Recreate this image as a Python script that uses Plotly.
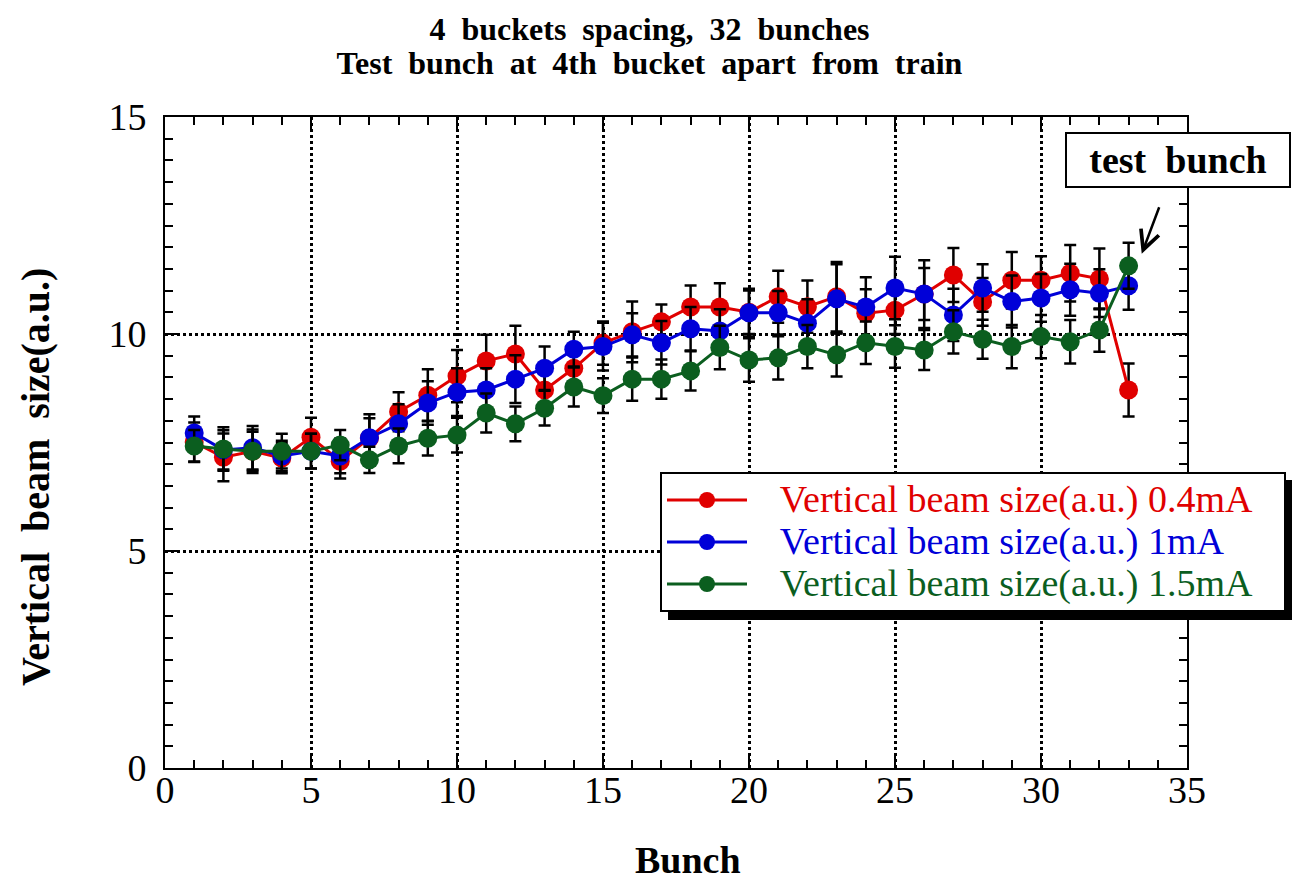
import plotly.graph_objects as go

# Bunch index along the train (33 = test bunch)
bunch = list(range(1, 34))

# Vertical beam size (a.u.) per bunch for each beam current
size_04mA = [7.51, 7.16, 7.30, 7.14, 7.62, 7.07, 7.60, 8.21, 8.59, 9.03, 9.38,
             9.54, 8.71, 9.21, 9.79, 10.05, 10.28, 10.62, 10.62, 10.50, 10.86,
             10.63, 10.86, 10.48, 10.55, 10.92, 11.36, 10.74, 11.24, 11.24,
             11.40, 11.27, 8.71]
size_1mA = [7.72, 7.33, 7.38, 7.19, 7.30, 7.19, 7.61, 7.93, 8.41, 8.66, 8.71,
            8.96, 9.21, 9.65, 9.71, 9.98, 9.80, 10.12, 10.07, 10.49, 10.49,
            10.25, 10.81, 10.62, 11.06, 10.92, 10.44, 11.06, 10.75, 10.83,
            11.02, 10.94, 11.11]
size_15mA = [7.42, 7.35, 7.30, 7.30, 7.30, 7.44, 7.10, 7.42, 7.60, 7.67, 8.18,
             7.93, 8.29, 8.78, 8.58, 8.96, 8.96, 9.15, 9.69, 9.40, 9.45, 9.71,
             9.52, 9.80, 9.71, 9.63, 10.05, 9.88, 9.71, 9.94, 9.82, 10.09, 11.57]

# Symmetric measurement errors
err_04mA = [0.45, 0.55, 0.50, 0.35, 0.45, 0.40, 0.55, 0.45, 0.60, 0.60, 0.60,
            0.65, 0.45, 0.40, 0.50, 0.70, 0.40, 0.50, 0.55, 0.50, 0.60, 0.60,
            0.80, 0.55, 0.55, 0.60, 0.62, 0.55, 0.65, 0.55, 0.65, 0.70, 0.61]
err_1mA = [0.38, 0.45, 0.50, 0.35, 0.40, 0.40, 0.45, 0.45, 0.50, 0.55, 0.50,
           0.55, 0.50, 0.40, 0.55, 0.50, 0.50, 0.50, 0.50, 0.55, 0.50, 0.55,
           0.80, 0.69, 0.72, 0.78, 0.60, 0.55, 0.60, 0.55, 0.60, 0.55, 0.55]
err_15mA = [0.37, 0.50, 0.45, 0.40, 0.40, 0.35, 0.30, 0.40, 0.40, 0.40, 0.45,
            0.40, 0.40, 0.45, 0.40, 0.50, 0.45, 0.45, 0.50, 0.50, 0.50, 0.50,
            0.50, 0.49, 0.49, 0.46, 0.50, 0.45, 0.50, 0.50, 0.50, 0.50, 0.53]

series_names = ["Vertical beam size(a.u.) 0.4mA",
                "Vertical beam size(a.u.) 1mA",
                "Vertical beam size(a.u.) 1.5mA"]
series_colors = ["#e00000", "#0000d8", "#0b5e1f"]
series_values = [size_04mA, size_1mA, size_15mA]
series_errors = [err_04mA, err_1mA, err_15mA]

FONT = "Liberation Serif, Times New Roman, serif"

# plot area in pixels: left 165, right 1187, top 117, bottom 768
PL, PR, PT, PB = 165, 1187, 117, 768


def px_x(p):
    return (p - PL) / (PR - PL)


def px_y(p):
    return (PB - p) / (PB - PT)


fig = go.Figure()
for name, color, vals, errs in zip(series_names, series_colors,
                                   series_values, series_errors):
    fig.add_trace(go.Scatter(
        x=bunch, y=vals,
        mode="lines+markers",
        name=(f'<span style="color:{color};font-size:38px">'
              f'   {name}   </span>'),
        line=dict(color=color, width=3),
        marker=dict(color=color, size=19, line=dict(width=0)),
        error_y=dict(type="data", array=errs, visible=True,
                     color="black", thickness=2.5, width=6),
    ))

axis_common = dict(
    showline=True, linecolor="black", linewidth=2, mirror="ticks",
    ticks="inside", ticklen=15, tickwidth=2, tickcolor="black",
    showgrid=True, gridcolor="black", gridwidth=3, griddash="dot",
    zeroline=False,
    tickfont=dict(family=FONT, size=38, color="black"),
)

fig.update_xaxes(
    range=[0, 35], dtick=5, tick0=0, ticklabelstandoff=-13,
    minor=dict(dtick=1, ticks="inside", ticklen=8, tickwidth=2,
               tickcolor="black", showgrid=False),
    **axis_common,
)
fig.update_yaxes(
    range=[0, 15], dtick=5, tick0=0, ticklabelstandoff=9,
    minor=dict(dtick=0.5, ticks="inside", ticklen=8, tickwidth=2,
               tickcolor="black", showgrid=False),
    **axis_common,
)

# Axis titles
fig.add_annotation(
    xref="paper", yref="paper", x=px_x(688), y=px_y(860),
    xanchor="center", yanchor="middle", showarrow=False,
    text="Bunch", font=dict(family=FONT, size=38, color="black",
                            weight="bold"),
)
fig.add_annotation(
    xref="paper", yref="paper", x=px_x(35), y=px_y(477),
    xanchor="center", yanchor="middle", showarrow=False, textangle=-90,
    text="Vertical  beam  size(a.u.)",
    font=dict(family=FONT, size=40, color="black", weight="bold"),
)

# Drop shadow behind the legend box
fig.add_shape(type="rect", xref="paper", yref="paper",
              x0=px_x(668), x1=px_x(1292), y0=px_y(620), y1=px_y(480),
              fillcolor="black", line=dict(width=0), layer="above")

# Label and arrow for the test bunch
fig.add_annotation(
    xref="paper", yref="paper", x=px_x(1178), y=px_y(160),
    xanchor="center", yanchor="middle",
    text="<b>test  bunch</b>", showarrow=False,
    font=dict(family=FONT, size=38, color="black"),
    bgcolor="white", bordercolor="black", borderwidth=2,
    width=216, height=46, borderpad=3,
)
fig.add_annotation(
    x=33.45, y=11.85, xref="x", yref="y", text="",
    showarrow=True, arrowhead=5, arrowsize=1.5, arrowwidth=2.5,
    arrowcolor="black", ax=18, ay=-48,
)

fig.update_layout(
    width=1299, height=885,
    margin=dict(l=PL, r=1299 - PR, t=PT, b=885 - PB),
    paper_bgcolor="white", plot_bgcolor="white",
    font=dict(family=FONT, color="black"),
    title=dict(
        text='<span style="font-size:32px">4  buckets  spacing,  32  bunches</span><br>'
             '<span style="font-size:32px">Test  bunch  at  4th  bucket  apart  from  train</span>',
        font=dict(family=FONT, size=26, color="black", weight="bold"),
        x=0.5, xref="container", xanchor="center",
        y=1 - 40 / 885, yref="container", yanchor="middle",
    ),
    legend=dict(
        x=px_x(660), y=px_y(472),
        xanchor="left", yanchor="top",
        bgcolor="white", bordercolor="black", borderwidth=2,
        font=dict(family=FONT, size=30),
        tracegroupgap=0, itemwidth=80,
    ),
    showlegend=True,
)

fig.write_html("out.html")
